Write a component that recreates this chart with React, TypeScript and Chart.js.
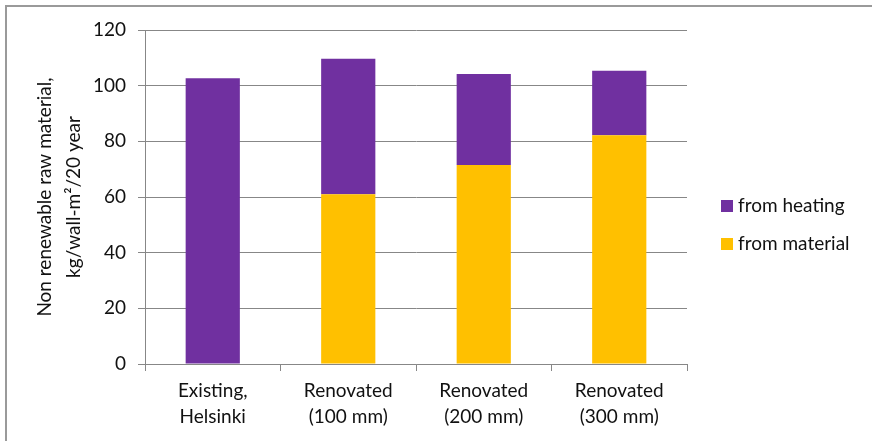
import { useEffect, useRef } from 'react';
import { Chart, registerables } from 'chart.js';

Chart.register(...registerables);

const categories: string[][] = [
  ['Existing,', 'Helsinki'],
  ['Renovated', '(100 mm)'],
  ['Renovated', '(200 mm)'],
  ['Renovated', '(300 mm)'],
];
const fromMaterial = [0, 61, 71.5, 82.2];
const fromHeating = [102.7, 48.7, 32.7, 23.2];
const seriesNames = ['from material', 'from heating'];
const seriesColors = ['#FFC000', '#7030A0'];
const yTitle = ['Non renewable raw material,', 'kg/wall-m\u00B2/20 year'];
const yMin = 0;
const yMax = 120;
const yStep = 20;

const FONT = 'Lato, "Open Sans", sans-serif';
const GRAY = '#878787';

const framePlugin = {
  id: 'frame',
  beforeDraw(chart: any) {
    const ctx = chart.ctx;
    ctx.save();
    ctx.fillStyle = '#ffffff';
    ctx.fillRect(0, 0, chart.width, chart.height);
    ctx.fillStyle = '#9a9a9a';
    ctx.fillRect(5, 5, chart.width - 5, 2);
    ctx.fillRect(5, 5, 2, chart.height - 5);
    ctx.restore();
  },
};

const legendPlugin = {
  id: 'sideLegend',
  afterDraw(chart: any) {
    const ctx = chart.ctx;
    const area = chart.chartArea;
    const items = chart.data.datasets
      .map((d: any) => ({ label: d.label, color: d.backgroundColor }))
      .reverse();
    ctx.save();
    ctx.font = `19px ${FONT}`;
    ctx.textBaseline = 'middle';
    ctx.textAlign = 'left';
    items.forEach((it: any, i: number) => {
      const cy = 206 + i * 38;
      const x = area.right + 34;
      ctx.fillStyle = it.color;
      ctx.fillRect(x, cy - 6, 12, 12);
      ctx.fillStyle = '#111111';
      ctx.fillText(it.label, x + 17, cy);
    });
    ctx.restore();
  },
};

export default function App() {
  const ref = useRef<HTMLCanvasElement | null>(null);

  useEffect(() => {
    if (!ref.current) return;
    const chart = new Chart(ref.current, {
      type: 'bar',
      data: {
        labels: categories,
        datasets: [
          {
            label: seriesNames[0],
            data: fromMaterial,
            backgroundColor: seriesColors[0],
            borderWidth: 0,
          },
          {
            label: seriesNames[1],
            data: fromHeating,
            backgroundColor: seriesColors[1],
            borderWidth: 0,
          },
        ],
      },
      options: {
        animation: false,
        responsive: false,
        devicePixelRatio: 1,
        layout: { padding: { left: 0, top: 30, right: 185, bottom: 0 } },
        datasets: {
          bar: { categoryPercentage: 1, barPercentage: 0.4 },
        },
        plugins: {
          legend: { display: false },
          tooltip: { enabled: false },
        },
        scales: {
          x: {
            stacked: true,
            afterFit: (s: any) => {
              s.height = 77;
            },
            grid: {
              display: true,
              drawOnChartArea: false,
              tickLength: 7,
              color: GRAY,
              offset: true,
            },
            border: { display: true, color: GRAY, width: 1 },
            ticks: {
              color: '#111111',
              padding: 7,
              font: { family: FONT, size: 19, lineHeight: 1.37 },
              maxRotation: 0,
              autoSkip: false,
            },
          },
          y: {
            stacked: true,
            min: yMin,
            max: yMax,
            afterFit: (s: any) => {
              s.width = 145;
            },
            grid: { color: GRAY, tickLength: 7 },
            border: { display: true, color: GRAY, width: 1 },
            ticks: {
              stepSize: yStep,
              color: '#111111',
              padding: 12,
              font: { family: FONT, size: 19 },
            },
            title: {
              display: true,
              text: yTitle,
              color: '#111111',
              padding: { top: 30, bottom: 0 },
              font: { family: FONT, size: 19, lineHeight: 1.55 },
            },
          },
        },
      },
      plugins: [framePlugin, legendPlugin],
    });
    return () => chart.destroy();
  }, []);

  return (
    <div
      style={{
        position: 'fixed',
        left: 0,
        top: 0,
        width: 872,
        height: 441,
        background: '#fff',
      }}
    >
      <canvas ref={ref} width={872} height={441} style={{ display: 'block' }} />
    </div>
  );
}
